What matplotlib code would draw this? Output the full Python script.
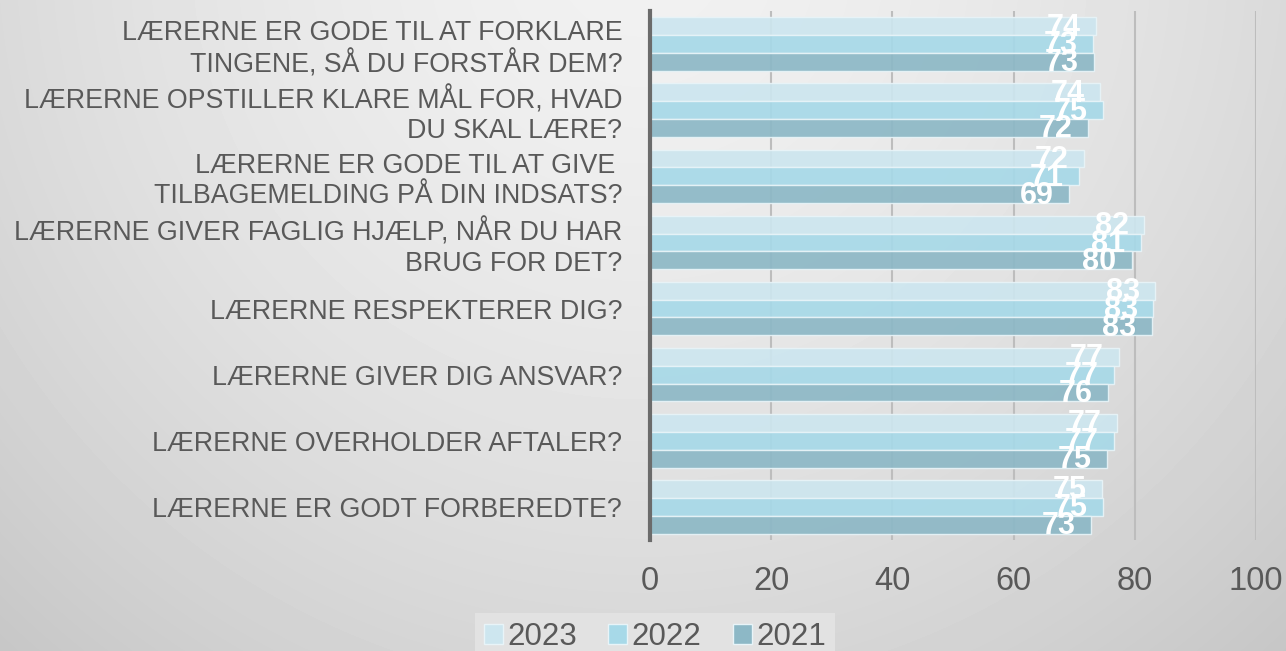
import numpy as np
import matplotlib
matplotlib.use('Agg')
import matplotlib.pyplot as plt
from matplotlib.patches import Patch

plt.rcParams['font.family'] = ['Liberation Sans', 'DejaVu Sans']

# ==================== data ====================
categories = [
    'LÆRERNE ER GODE TIL AT FORKLARE\nTINGENE, SÅ DU FORSTÅR DEM?',
    'LÆRERNE OPSTILLER KLARE MÅL FOR, HVAD\nDU SKAL LÆRE?',
    'LÆRERNE ER GODE TIL AT GIVE \nTILBAGEMELDING PÅ DIN INDSATS?',
    'LÆRERNE GIVER FAGLIG HJÆLP, NÅR DU HAR\nBRUG FOR DET?',
    'LÆRERNE RESPEKTERER DIG?',
    'LÆRERNE GIVER DIG ANSVAR?',
    'LÆRERNE OVERHOLDER AFTALER?',
    'LÆRERNE ER GODT FORBEREDTE?',
]
years = ['2023', '2022', '2021']
v2023 = [73.6, 74.3, 71.6, 81.5, 83.4, 77.4, 77.0, 74.6]
v2022 = [73.1, 74.8, 70.8, 81.0, 83.0, 76.6, 76.5, 74.8]
v2021 = [73.3, 72.3, 69.2, 79.5, 82.8, 75.6, 75.4, 72.8]
labels2023 = [74, 74, 72, 82, 83, 77, 77, 75]
labels2022 = [73, 75, 71, 81, 83, 77, 77, 75]
labels2021 = [73, 72, 69, 80, 83, 76, 75, 73]

colors = ['#CDE6EF', '#A7D9E8', '#8DB8C6']
TEXT = '#595959'

fig = plt.figure(figsize=(12.86, 6.51), dpi=100)

# radial gradient background
bg = fig.add_axes([0, 0, 1, 1], zorder=-10)
yy, xx = np.mgrid[0:651, 0:1286]
d = np.hypot(xx - 640, yy + 50) / 923.0
shade = np.clip(0.945 - 0.16 * d ** 1.6, 0, 1)
bg.imshow(shade, cmap='gray', vmin=0, vmax=1, aspect='auto', interpolation='bilinear')
bg.axis('off')

ax = fig.add_axes([650 / 1286, 1 - 540 / 651, 606 / 1286, 529 / 651])
ax.set_facecolor('none')

n = len(categories)
y = np.arange(n)
h = 0.27
series = [(v2023, labels2023), (v2022, labels2022), (v2021, labels2021)]
for i, (vals, labs) in enumerate(series):
    ypos = y + (i - 1) * h
    ax.barh(ypos, vals, height=h, color=colors[i], alpha=0.92,
            edgecolor='#E8F4F8', linewidth=1, zorder=3)
    for yp, v, lab in zip(ypos, vals, labs):
        ax.annotate(f'{lab}', (v, yp), textcoords='offset points', xytext=(-11, -1),
                    ha='right', va='center', fontsize=22, fontweight='bold',
                    color='white', zorder=5)

ax.set_xlim(0, 100)
ax.set_ylim(n - 0.5, -0.5)
ax.set_xticks([0, 20, 40, 60, 80, 100])
ax.xaxis.grid(True, color='#BDBDBD', linewidth=1.5, zorder=0)
ax.set_axisbelow(True)
ax.tick_params(axis='x', length=0, pad=19, labelsize=23.5, labelcolor=TEXT)
ax.set_yticks(y)
ax.set_yticklabels(categories, fontsize=19.3, color=TEXT, linespacing=1.2)
ax.tick_params(axis='y', length=0, pad=20)
for s in ['top', 'right', 'bottom']:
    ax.spines[s].set_visible(False)
ax.spines['left'].set_color('#6B6B6B')
ax.spines['left'].set_linewidth(3)
ax.spines['left'].set_zorder(6)

handles = [Patch(facecolor=c, edgecolor='#E8F4F8', label=l) for c, l in zip(colors, years)]
leg = fig.legend(handles=handles, loc='upper center', bbox_to_anchor=(655 / 1286, 0.083),
                 ncol=3, fontsize=22.5, frameon=True, fancybox=False,
                 handlelength=0.6, handleheight=0.6, handletextpad=0.15,
                 columnspacing=1.0, borderpad=0.3, labelcolor=TEXT)
leg.get_frame().set_facecolor('#E2E2E2')
leg.get_frame().set_edgecolor('none')
leg.get_frame().set_alpha(1)

fig.savefig('out.png', dpi=100)
